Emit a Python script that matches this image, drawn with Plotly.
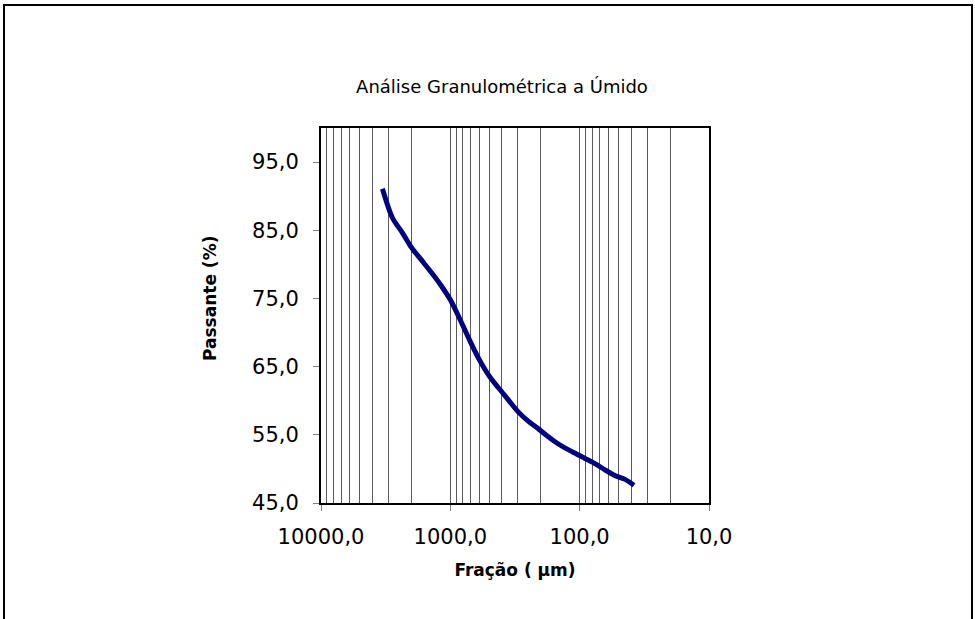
import plotly.graph_objects as go

# ---- data ----
fracao_um = [3350, 2800, 2360, 2000, 1700, 1400, 1180, 1000, 850, 710, 600, 500,
             425, 355, 300, 250, 212, 180, 150, 125, 106, 90, 75, 63, 53, 45, 38]
passante_pct = [91.1, 86.8, 84.7, 82.5, 80.8, 78.8, 76.9, 74.8, 72.1, 68.9, 66.1, 63.6,
                61.9, 60.1, 58.4, 57.0, 56.0, 54.9, 53.8, 52.9, 52.2, 51.5, 50.7, 49.8, 49.0, 48.5, 47.6]

x_major_vals = [10000, 1000, 100, 10]
x_major_text = ["10000,0", "1000,0", "100,0", "10,0"]
x_minor_vals = [m * d for d in (10, 100, 1000) for m in range(2, 10)]
y_tick_vals = [45, 55, 65, 75, 85, 95]
y_tick_text = ["45,0", "55,0", "65,0", "75,0", "85,0", "95,0"]

title_text = "Análise Granulométrica a Úmido"
x_title = "Fração ( μm)"
y_title = "Passante (%)"

# ---- figure ----
W, H = 975, 619
ML, MR, MT, MB = 321, 266, 128, 116
pw, ph = W - ML - MR, H - MT - MB

fig = go.Figure()
fig.add_trace(go.Scatter(
    x=fracao_um, y=passante_pct, mode="lines",
    line=dict(color="#000080", width=5, shape="spline", smoothing=0.8),
    showlegend=False, hoverinfo="x+y",
))

font_main = "DejaVu Sans, Verdana, sans-serif"

def px2paper_x(px):
    return (px - ML) / pw

def px2paper_y(py):
    return (H - MB - py) / ph

fig.update_layout(
    width=W, height=H,
    margin=dict(l=ML, r=MR, t=MT, b=MB, pad=0),
    paper_bgcolor="white", plot_bgcolor="white",
    title=dict(text=title_text, x=502 / W, y=1 - 87 / H,
               xanchor="center", yanchor="middle",
               xref="container", yref="container",
               font=dict(family=font_main, size=18, color="black")),
    xaxis=dict(
        type="log", range=[4, 1], autorange=False,
        tickvals=x_major_vals, ticktext=x_major_text,
        ticks="outside", ticklen=6, tickcolor="#808080", tickwidth=1,
        ticklabelstandoff=8,
        tickfont=dict(family=font_main, size=21, color="black"),
        showgrid=True, gridcolor="#5a5a5a", gridwidth=1,
        minor=dict(tickvals=x_minor_vals, showgrid=True, gridcolor="#5a5a5a", gridwidth=1, ticks=""),
        showline=True, linecolor="black", linewidth=2, mirror=True,
        zeroline=False,
        title=dict(text=x_title, standoff=16,
                   font=dict(family=font_main, size=17, color="black", weight="bold")),
    ),
    yaxis=dict(
        range=[45, 100], autorange=False,
        tickvals=y_tick_vals, ticktext=y_tick_text,
        ticks="outside", ticklen=6, tickcolor="#808080", tickwidth=1,
        ticklabelstandoff=10,
        tickfont=dict(family=font_main, size=21, color="black"),
        showgrid=False,
        showline=True, linecolor="black", linewidth=2, mirror=True,
        zeroline=False,
    ),
    annotations=[dict(
        text=y_title, textangle=-90, showarrow=False,
        xref="paper", yref="paper", x=px2paper_x(210), y=px2paper_y(299),
        xanchor="center", yanchor="middle",
        font=dict(family=font_main, size=17, color="black", weight="bold"),
    )],
)

# outer chart frame (decoration)
fig.add_shape(type="rect", xref="paper", yref="paper",
              x0=px2paper_x(4), x1=px2paper_x(972), y0=px2paper_y(640), y1=px2paper_y(5),
              line=dict(color="black", width=2), fillcolor="rgba(0,0,0,0)", layer="below")

fig.write_html("out.html", config={"displayModeBar": False},
               post_script="document.body.style.margin='0px';")
